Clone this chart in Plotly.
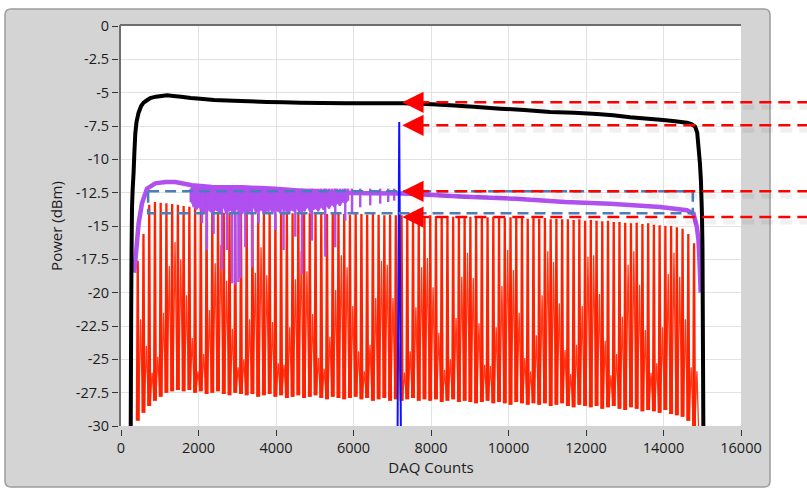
import plotly.graph_objects as go

# ---------------- axes ----------------
x_range = [0, 16000]
y_range = [-30, 0]
x_ticks = [0, 2000, 4000, 6000, 8000, 10000, 12000, 14000, 16000]
x_tick_text = ["0", "2000", "4000", "6000", "8000", "10000", "12000", "14000", "16000"]
y_ticks = [0, -2.5, -5, -7.5, -10, -12.5, -15, -17.5, -20, -22.5, -25, -27.5, -30]
y_tick_text = ["0", "-2.5", "-5", "-7.5", "-10", "-12.5", "-15", "-17.5",
               "-20", "-22.5", "-25", "-27.5", "-30"]
x_title = "DAQ Counts"
y_title = "Power (dBm)"

# ---------------- total power (black) ----------------
black_x = [250, 262, 272, 284, 300, 325, 345, 369, 400, 454,
           520, 583, 680, 756, 900, 1050, 1187, 1350, 1550, 1800,
           2046, 2400, 2904, 3300, 3767, 4200, 4627, 5200, 5831, 6500,
           7283, 7900, 8496, 9100, 9786, 10400, 11076, 11700, 12280, 12700,
           13140, 13600, 13992, 14300, 14603, 14720, 14818, 14870, 14904, 14940,
           14966, 14991, 15006, 15016, 15030]
black_y = [-31, -22, -17, -13.6, -12.3, -11.0, -9.5, -8.05, -7.2, -6.5,
           -6.0, -5.75, -5.55, -5.4, -5.3, -5.25, -5.2, -5.25, -5.3, -5.4,
           -5.45, -5.55, -5.6, -5.65, -5.7, -5.72, -5.75, -5.78, -5.8, -5.8,
           -5.8, -5.85, -5.95, -6.05, -6.2, -6.3, -6.45, -6.5, -6.6, -6.7,
           -6.85, -6.95, -7.05, -7.15, -7.25, -7.35, -7.55, -8.0, -9.1, -10.3,
           -11.6, -14.0, -16.6, -22.8, -31]

# ---------------- filtered power (purple) ----------------
purple_x = [340, 370, 455, 541, 670, 885, 1150, 1401, 1831, 2347,
            3121, 3981, 4650, 5573, 6400, 7283, 7593, 8883, 10173, 11463,
            12624, 13914, 14603, 14774, 14861, 14903, 14929, 14960]
purple_y = [-18.5, -17.6, -14.8, -13.3, -12.2, -11.8, -11.7, -11.7, -11.95, -12.07,
            -12.1, -12.2, -12.35, -12.5, -12.55, -12.57, -12.6, -12.8, -12.95, -13.2,
            -13.33, -13.57, -13.82, -14.07, -15.07, -16.07, -17.6, -20.0]

# dense shallow dropouts (one every 70 counts from 1800)
purple_dense_start = 1800
purple_dense_step = 70
purple_dense_y = [-13.2, -13.5, -13.8, -13.6, -13.9, -14.0, -13.7, -13.9, -14.1, -13.8,
                  -13.9, -14.0, -13.6, -14.1, -13.9, -13.8, -14.0, -13.7, -13.9, -14.1,
                  -13.8, -14.0, -13.9, -13.6, -14.0, -13.9, -13.8, -14.1, -13.9, -13.7,
                  -14.0, -13.8, -13.9, -14.0, -13.6, -13.9, -14.1, -13.8, -13.9, -13.7,
                  -14.0, -13.8, -13.9, -13.6, -14.0, -13.8, -13.7, -13.9, -13.6, -13.8,
                  -13.5, -13.7, -13.4, -13.6, -13.3, -13.5, -13.2, -13.3, -13.1]

# deep dropouts of the filtered trace
purple_dip_x = [1874, 2090, 2219, 2390, 2606, 2735, 2870, 2950, 3030, 3078,
                3207, 3380, 3551, 3809, 3981, 4195, 4498, 4670, 4928, 5271,
                5529, 5787, 5960, 6174, 6432, 6690, 6896, 7050]
purple_dip_y = [-13.6, -14.8, -16.8, -15.6, -18.3, -16.8, -19.3, -19.4, -19.2, -18.9,
                -16.6, -18.1, -14.8, -14.1, -15.3, -16.8, -15.8, -18.6, -16.1, -17.3,
                -16.6, -14.6, -13.95, -13.6, -13.45, -13.33, -13.2, -13.1]
purple_dip_from = -12.2

# ---------------- pulse train (red) ----------------
pulse_start = 410
pulse_period = 148
pulse_top = [-17.6, -15.6, -13.4, -13.2, -13.25, -13.3, -13.35, -13.4, -13.5, -13.55,
             -13.6, -13.7, -13.8, -13.9, -14.0, -14.0, -14.05, -14.0, -14.0, -14.05,
             -14.0, -14.05, -13.95, -14.0, -14.05, -14.0, -14.0, -14.05, -14.0, -14.05,
             -14.05, -14.1, -14.05, -14.1, -14.05, -14.1, -14.1, -14.15, -14.1, -14.1,
             -14.15, -14.1, -14.15, -14.2, -14.15, -14.2, -14.2, -14.25, -14.2, -14.2,
             -14.25, -14.2, -14.25, -14.3, -14.25, -14.3, -14.25, -14.3, -14.3, -14.35,
             -14.3, -14.35, -14.3, -14.35, -14.4, -14.35, -14.4, -14.4, -14.45, -14.4,
             -14.45, -14.4, -14.5, -14.45, -14.5, -14.5, -14.55, -14.5, -14.6, -14.55,
             -14.6, -14.65, -14.6, -14.7, -14.7, -14.75, -14.8, -14.75, -14.85, -14.8,
             -14.9, -14.95, -15.0, -15.0, -15.1, -15.2, -15.6, -16.3]
pulse_mid = [-22.0, -24.0, -26.0, -24.8, -21.5, -18.0, -16.2,
             -17.5, -20.2, -23.4, -25.9, -24.6, -21.3, -17.8,
             -16.4, -19.1, -22.7, -25.6, -25.0, -22.0, -18.5,
             -16.6, -18.7, -22.2, -25.3, -25.4, -22.6, -19.0,
             -16.9, -18.4, -21.6, -24.9, -25.7, -23.3, -19.8,
             -17.2, -18.1, -21.0, -24.4, -25.9, -23.9, -20.4,
             -17.6, -17.9, -20.4, -23.8, -26.0, -24.4, -21.1,
             -18.1, -17.4, -19.6, -23.0, -25.8, -25.0, -21.9,
             -18.8, -17.0, -18.9, -22.3, -25.4, -25.5, -22.6,
             -19.5, -16.8, -18.3, -21.5, -24.9, -25.9, -23.2,
             -20.2, -16.9, -17.7, -20.8, -24.3, -26.1, -23.9,
             -21.0, -17.3, -17.2, -20.1, -23.6, -26.2, -24.6,
             -21.8, -17.9, -16.9, -19.4, -22.8, -26.0, -25.3,
             -22.6, -18.6, -17.0, -18.8, -22.0, -25.6, -25.9]
pulse_floor = [-29.6, -29.0, -28.5, -28.1, -27.8, -27.5, -27.4, -27.3, -27.4, -27.3,
               -27.5, -27.4, -27.6, -27.5, -27.4, -27.6, -27.7, -27.5, -27.6, -27.7,
               -27.6, -27.8, -27.7, -27.6, -27.8, -27.7, -27.9, -27.8, -27.7, -27.9,
               -27.8, -27.7, -27.9, -28.0, -27.8, -27.9, -28.0, -27.9, -27.8, -28.0,
               -27.9, -28.1, -28.0, -27.9, -28.1, -28.0, -28.1, -28.0, -27.9, -28.1,
               -28.0, -28.1, -28.0, -28.2, -28.1, -28.0, -28.2, -28.1, -28.2, -28.3,
               -28.2, -28.1, -28.3, -28.2, -28.3, -28.4, -28.2, -28.3, -28.4, -28.3,
               -28.4, -28.3, -28.5, -28.4, -28.3, -28.5, -28.6, -28.4, -28.5, -28.6,
               -28.5, -28.7, -28.6, -28.5, -28.7, -28.8, -28.6, -28.7, -28.9, -28.8,
               -28.9, -29.0, -28.8, -29.1, -29.2, -29.3, -29.6, -30.0]

# ---------------- cursor (blue) ----------------
cursor_x = 7180
cursor_top = -7.2

# ---------------- average levels (dashed box) ----------------
box_x = [700, 14757]
box_levels = [-12.4, -14.05]

# ---------------- reference levels with arrows ----------------
ref_levels = [-5.72, -7.45, -12.4, -14.33]
arrow_tip_x = 7260

# ================= geometry helpers (pixels -> paper) =================
W, H = 807, 490
REG_L, REG_R, REG_T, REG_B = 118, 741, 26, 429   # margin box
DATA_L, DATA_B = 121, 426                         # data area corner (ticks sit 3px off)


def paper_x(px):
    return (px - REG_L) / (REG_R - REG_L)


def paper_y(py):
    return (REG_B - py) / (REG_B - REG_T)


def data_px_x(v):
    return DATA_L + (v - x_range[0]) / (x_range[1] - x_range[0]) * (REG_R - DATA_L)


def data_px_y(v):
    return REG_T + (y_range[1] - v) / (y_range[1] - y_range[0]) * (DATA_B - REG_T)


def rounded_rect(x0, y0, x1, y1, r):
    # pixel rectangle with rounded corners, returned as a paper-space SVG path
    X = paper_x
    Y = paper_y
    return (f"M{X(x0 + r)},{Y(y0)} L{X(x1 - r)},{Y(y0)} Q{X(x1)},{Y(y0)} {X(x1)},{Y(y0 + r)} "
            f"L{X(x1)},{Y(y1 - r)} Q{X(x1)},{Y(y1)} {X(x1 - r)},{Y(y1)} "
            f"L{X(x0 + r)},{Y(y1)} Q{X(x0)},{Y(y1)} {X(x0)},{Y(y1 - r)} "
            f"L{X(x0)},{Y(y0 + r)} Q{X(x0)},{Y(y0)} {X(x0 + r)},{Y(y0)} Z")


def line_style(color, width, dash=None):
    d = dict(color=color, width=width, simplify=False)
    if dash:
        d["dash"] = dash
    return d


# ================= traces =================
fig = go.Figure()

# red pulse train: narrow main pulse and weaker secondary pulse in each period
main_x, main_y, sec_x, sec_y = [], [], [], []
n_pulses = len(pulse_top)
for i, (top, mid, floor) in enumerate(zip(pulse_top, pulse_mid, pulse_floor)):
    base = pulse_start + i * pulse_period
    next_floor = pulse_floor[i + 1] if i + 1 < n_pulses else -31
    main_x += [base, base + 0.15 * pulse_period, base + 0.3 * pulse_period, None]
    main_y += [floor, top, floor, None]
    sec_x += [base + 0.3 * pulse_period, base + 0.65 * pulse_period, base + pulse_period, None]
    sec_y += [floor, mid, next_floor, None]
fig.add_trace(go.Scatter(x=sec_x, y=sec_y, mode="lines",
                         line=line_style("#ff3a1a", 1.3), hoverinfo="skip"))
fig.add_trace(go.Scatter(x=main_x, y=main_y, mode="lines",
                         line=line_style("#ff2200", 2.3), hoverinfo="skip"))

PURPLE = "#b050f0"

# purple dense region: outline from the filtered trace down to the shallow dropouts
dense_xs = [purple_dense_start + i * purple_dense_step for i in range(len(purple_dense_y))]
top_pts = [(x, y) for x, y in zip(purple_x, purple_y) if dense_xs[0] <= x <= dense_xs[-1]]
poly_x = [dense_xs[0]] + [p[0] for p in top_pts] + [dense_xs[-1]] + dense_xs[::-1]
poly_y = [purple_dip_from] + [p[1] for p in top_pts] + [purple_y[13]] + purple_dense_y[::-1]
fig.add_trace(go.Scatter(x=poly_x, y=poly_y, mode="lines", fill="toself",
                         fillcolor=PURPLE, line=line_style(PURPLE, 0.8), hoverinfo="skip"))

# purple dropouts (shallow and deep)
dip_x, dip_y = [], []
for xv, yv in list(zip(dense_xs, purple_dense_y)) + list(zip(purple_dip_x, purple_dip_y)):
    dip_x += [xv, xv, None]
    dip_y += [purple_dip_from, yv, None]
fig.add_trace(go.Scatter(x=dip_x, y=dip_y, mode="lines",
                         line=line_style(PURPLE, 2.4), hoverinfo="skip"))

# purple filtered trace
fig.add_trace(go.Scatter(x=purple_x, y=purple_y, mode="lines",
                         line=line_style(PURPLE, 4.5), hoverinfo="skip"))

# black total power
fig.add_trace(go.Scatter(x=black_x, y=black_y, mode="lines",
                         line=line_style("#000000", 4), hoverinfo="skip"))

# blue cursor
fig.add_trace(go.Scatter(x=[cursor_x - 42, cursor_x, cursor_x + 42],
                         y=[y_range[0], cursor_top, y_range[0]], mode="lines",
                         line=line_style("#1010ff", 2), hoverinfo="skip"))

# dashed box of average levels
fig.add_trace(go.Scatter(x=[box_x[0], box_x[1], box_x[1], box_x[0], box_x[0]],
                         y=[box_levels[0], box_levels[0], box_levels[1], box_levels[1], box_levels[0]],
                         mode="lines", line=line_style("#4a7ebb", 2.5, "11px,6px"),
                         hoverinfo="skip"))

# ================= shapes =================
shapes = []
# grey panel
shapes.append(dict(type="path", xref="paper", yref="paper", layer="below",
                   path=rounded_rect(5, 9, 770, 487, 6),
                   fillcolor="#d4d4d4", line=dict(color="#9c9c9c", width=1.5)))
# white plotting area
shapes.append(dict(type="rect", xref="paper", yref="paper", layer="below",
                   x0=paper_x(DATA_L), x1=paper_x(REG_R), y0=paper_y(DATA_B), y1=paper_y(REG_T),
                   fillcolor="white", line=dict(width=0)))
# sunken frame (top and left edges)
shapes.append(dict(type="line", xref="paper", yref="paper", layer="above",
                   x0=paper_x(DATA_L - 1), x1=paper_x(REG_R), y0=paper_y(REG_T - 1), y1=paper_y(REG_T - 1),
                   line=dict(color="#6e6e6e", width=2)))
shapes.append(dict(type="line", xref="paper", yref="paper", layer="above",
                   x0=paper_x(DATA_L - 1), x1=paper_x(DATA_L - 1), y0=paper_y(REG_T - 1), y1=paper_y(DATA_B),
                   line=dict(color="#6e6e6e", width=2)))

# reference level lines with soft shadow
arrow_len = 15
for lvl in ref_levels:
    py = data_px_y(lvl)
    x_start = data_px_x(arrow_tip_x) + arrow_len
    shapes.append(dict(type="line", xref="paper", yref="paper", layer="above",
                       x0=paper_x(x_start + 2), x1=paper_x(W), y0=paper_y(py + 5), y1=paper_y(py + 5),
                       line=dict(color="rgba(0,0,0,0.06)", width=5, dash="12px,7px")))
    shapes.append(dict(type="line", xref="paper", yref="paper", layer="above",
                       x0=paper_x(x_start), x1=paper_x(W), y0=paper_y(py), y1=paper_y(py),
                       line=dict(color="#ff0000", width=2.5, dash="12px,7px")))

annotations = []
for lvl in ref_levels:
    annotations.append(dict(x=arrow_tip_x, y=lvl, xref="x", yref="y", text="",
                            showarrow=True, ax=arrow_len + 2, ay=0, arrowhead=2,
                            arrowsize=1.7, arrowwidth=2.5, arrowcolor="#ff0000",
                            standoff=0))

tick_font = dict(family="Open Sans", size=14.5, color="#1c1c1c")
title_font = dict(family="Open Sans", size=15, color="#1c1c1c")

fig.update_layout(
    width=W, height=H,
    margin=dict(l=REG_L, r=W - REG_R, t=REG_T, b=H - REG_B, pad=0),
    paper_bgcolor="white",
    plot_bgcolor="rgba(0,0,0,0)",
    showlegend=False,
    shapes=shapes,
    annotations=annotations,
    xaxis=dict(range=x_range, domain=[(DATA_L - REG_L) / (REG_R - REG_L), 1],
               anchor="free", position=0,
               tickvals=x_ticks, ticktext=x_tick_text, ticks="outside", ticklen=6, tickwidth=1,
               tickcolor="#333333",
               showgrid=True, gridcolor="#e2e2e2", gridwidth=1.2, zeroline=False, showline=False,
               tickfont=tick_font,
               title=dict(text=x_title, font=title_font, standoff=4)),
    yaxis=dict(range=y_range, domain=[(REG_B - DATA_B) / (REG_B - REG_T), 1],
               anchor="free", position=0,
               tickvals=y_ticks, ticktext=y_tick_text, ticks="outside", ticklen=6, tickwidth=1,
               tickcolor="#333333",
               showgrid=True, gridcolor="#e2e2e2", gridwidth=1.2, zeroline=False, showline=False,
               tickfont=tick_font,
               title=dict(text=y_title, font=title_font, standoff=8)),
)

fig.write_html("out.html")
